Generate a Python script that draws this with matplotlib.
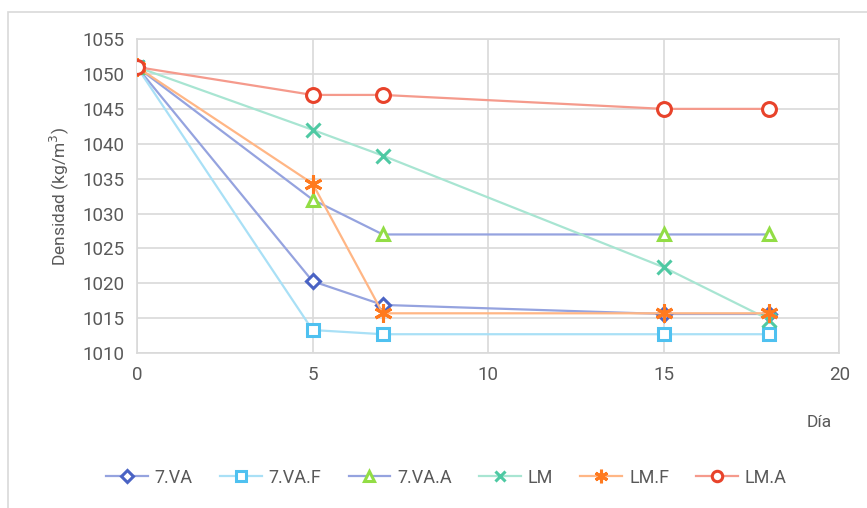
import matplotlib.pyplot as plt
from matplotlib.patches import Rectangle

# Densidad medida en cada día de muestreo
dias = [0, 5, 7, 15, 18]
va = [1051, 1020.3, 1016.9, 1015.6, 1015.6]
va_f = [1051, 1013.3, 1012.7, 1012.7, 1012.7]
va_a = [1051, 1032.0, 1027.0, 1027.0, 1027.0]
lm = [1051, 1042.0, 1038.3, 1022.3, 1014.8]
lm_f = [1051, 1034.3, 1015.7, 1015.7, 1015.7]
lm_a = [1051, 1047.0, 1047.0, 1045.0, 1045.0]

series = [
    ("7.VA", va, "D", "#4a63c4", "#95a3df", 7.5),
    ("7.VA.F", va_f, "s", "#4fc1f0", "#a9e0f6", 9),
    ("7.VA.A", va_a, "^", "#92dd45", "#95a3df", 9),
    ("LM", lm, "x", "#4ec9a3", "#a8e5d2", 10),
    ("LM.F", lm_f, (6, 2, 0), "#ff7a1f", "#ffb685", 13),
    ("LM.A", lm_a, "o", "#e8432b", "#f59a8c", 10),
]

plt.rcParams["font.family"] = ["Roboto", "DejaVu Sans"]
text_col = "#595959"

fig = plt.figure(figsize=(8.67, 5.08), dpi=100)
fig.patches.append(Rectangle((0.009, -0.05), 0.995, 1.027, transform=fig.transFigure,
                             fill=False, edgecolor="#d9d9d9", linewidth=1.2))
ax = fig.add_axes([0.158, 0.305, 0.81, 0.618])

for name, ys, mk, mcol, lcol, ms in series:
    filled = mk in ("x", (6, 2, 0))
    ax.plot(dias, ys, color=lcol, linewidth=1.6, marker=mk, markersize=ms,
            markerfacecolor=mcol if filled else "white", markeredgecolor=mcol,
            markeredgewidth=2.2, label=name, zorder=3)

ax.set_xlim(0, 20)
ax.set_ylim(1010, 1055)
ax.set_xticks(range(0, 21, 5))
ax.set_yticks(range(1010, 1056, 5))
ax.grid(True, color="#d9d9d9", linewidth=1.2)
ax.set_axisbelow(True)
for s in ax.spines.values():
    s.set_color("#d9d9d9")
    s.set_linewidth(1.2)
ax.tick_params(length=0, labelsize=13.5, colors=text_col, pad=9)
ax.set_ylabel("Densidad (kg/m$^3$)", fontsize=12.5, color=text_col, labelpad=8)
fig.text(0.945, 0.16, "Día", fontsize=12.5, color=text_col, ha="center")

fig.legend(loc="center", bbox_to_anchor=(0.515, 0.06), ncol=6, frameon=False,
           fontsize=13, labelcolor=text_col, handlelength=2.3, columnspacing=1.5,
           handletextpad=0.4, markerscale=0.75)

fig.savefig("out.png", dpi=100)
